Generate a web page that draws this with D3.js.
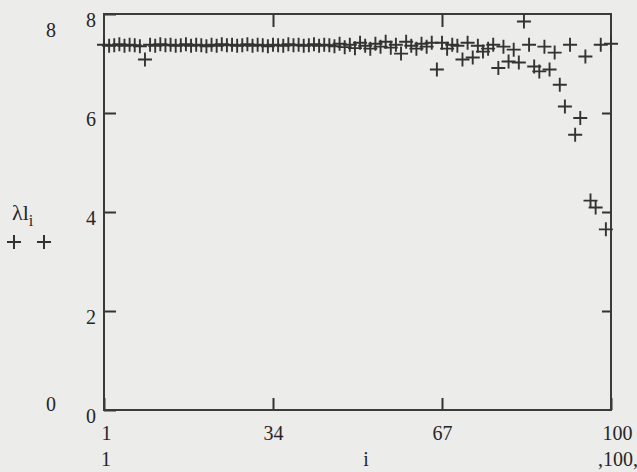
<!DOCTYPE html>
<html>
<head>
<meta charset="utf-8">
<script src="https://d3js.org/d3.v7.min.js"></script>
<style>
  body { margin: 0; background: #ececea; }
  svg { display: block; }
</style>
</head>
<body>
<div id="graph-area"></div>
<script>

    // lambda l_i for i = 1..100
    const lambda = [
      7.38, 7.36, 7.37, 7.39, 7.36, 7.38, 7.37, 7.35, 7.08, 7.38,
      7.36, 7.39, 7.37, 7.38, 7.36, 7.37, 7.39, 7.36, 7.38, 7.37,
      7.35, 7.38, 7.36, 7.39, 7.37, 7.38, 7.36, 7.37, 7.39, 7.36,
      7.38, 7.37, 7.35, 7.38, 7.37, 7.36, 7.39, 7.37, 7.38, 7.36,
      7.37, 7.39, 7.36, 7.38, 7.37, 7.35, 7.40, 7.33, 7.38, 7.31,
      7.42, 7.36, 7.30, 7.40, 7.34, 7.44, 7.32, 7.38, 7.20, 7.44,
      7.36, 7.30, 7.40, 7.34, 7.42, 6.88, 7.42, 7.30, 7.38, 7.36,
      7.08, 7.42, 7.12, 7.36, 7.24, 7.30, 7.38, 6.91, 7.34, 7.04,
      7.28, 7.02, 7.85, 7.38, 6.94, 6.84, 7.34, 6.88, 7.22, 6.57,
      6.13, 7.38, 5.56, 5.90, 7.14, 4.23, 4.09, 7.38, 3.65, 7.40
    ];
    const index = d3.range(1, lambda.length + 1);

    const xTicks = [1, 34, 67, 100];
    const yTicks = [0, 2, 4, 6, 8];

    const w = 637;
    const h = 472;
    const pl = 104, pr = 611, pt = 14, pb = 410;
    const serif = "'Liberation Serif', 'Times New Roman', 'DejaVu Serif', serif";

    const xScale = d3.scaleLinear().domain([1, 100]).range([pl, pr]);
    const yScale = d3.scaleLinear().domain([0, 8]).range([pb, pt]);

    const svg = d3.select("#graph-area").append("svg")
                  .attr("width", w)
                  .attr("height", h);

    const ink = "#333";

    // tick marks go inside the frame, Mathcad style
    const yAxis = svg.append("g")
       .attr("transform", "translate(" + pl + ",0)")
       .call(d3.axisLeft(yScale).tickValues(yTicks).tickSize(-12).tickPadding(8).tickFormat(d3.format("d")));
    yAxis.selectAll("text").attr("dy", "0.6em");

    const xAxis = svg.append("g")
       .attr("transform", "translate(0," + pb + ")")
       .call(d3.axisBottom(xScale).tickValues(xTicks).tickSize(-12).tickPadding(16).tickFormat(d3.format("d")));
    xAxis.selectAll("text")
       .attr("dx", (d) => d === 1 ? 2 : (d === 100 ? 6 : 0));

    svg.append("g")
       .attr("transform", "translate(0," + pt + ")")
       .call(d3.axisTop(xScale).tickValues([34, 67]).tickSize(-13).tickFormat(""));

    svg.append("g")
       .attr("transform", "translate(" + pr + ",0)")
       .call(d3.axisRight(yScale).tickValues([2, 4, 6]).tickSize(-9).tickFormat(""));

    svg.selectAll(".domain").remove();
    svg.selectAll(".tick line").attr("stroke", ink).attr("stroke-width", 2);

    // frame
    svg.append("rect")
       .attr("x", pl).attr("y", pt)
       .attr("width", pr - pl).attr("height", pb - pt)
       .attr("fill", "none").attr("stroke", "#3a3a3a").attr("stroke-width", 2);

    // plus markers
    const s = 7;
    const plus = (cx, cy) => "M" + (cx - s) + "," + cy + "H" + (cx + s) + "M" + cx + "," + (cy - s) + "V" + (cy + s);

    svg.append("g").selectAll("path")
       .data(index)
       .enter()
       .append("path")
       .attr("d", (d, i) => plus(xScale(d), yScale(lambda[i])))
       .attr("fill", "none")
       .attr("stroke", ink)
       .attr("stroke-width", 1.9);

    // Mathcad limit labels
    svg.append("text").attr("x", 51).attr("y", 37).style("text-anchor", "middle").text("8");
    svg.append("text").attr("x", 51).attr("y", 411).style("text-anchor", "middle").text("0");
    svg.append("text").attr("x", 106).attr("y", 466).style("text-anchor", "middle").text("1");
    svg.append("text").attr("x", 366).attr("y", 466).style("text-anchor", "middle").text("i");
    svg.append("text").attr("x", 618).attr("y", 466).style("text-anchor", "middle").text(",100,");

    // y axis title and trace legend
    const yt = svg.append("text").attr("x", 12).attr("y", 220).style("font-size", "22px");
    yt.append("tspan").text("λl");
    yt.append("tspan").attr("dy", 6).style("font-size", "16px").text("i");

    svg.append("path")
       .attr("d", plus(14, 242) + plus(44, 242))
       .attr("fill", "none").attr("stroke", ink).attr("stroke-width", 2);

    // all text in a Times-like face
    svg.selectAll("text")
       .attr("font-family", null)
       .style("font-family", serif)
       .style("fill", "#262626");
    svg.selectAll("g").attr("font-family", null).attr("font-size", null);
    svg.selectAll("text").filter(function() { return !this.style.fontSize; })
       .style("font-size", "20px");

  </script>
</body>
</html>
